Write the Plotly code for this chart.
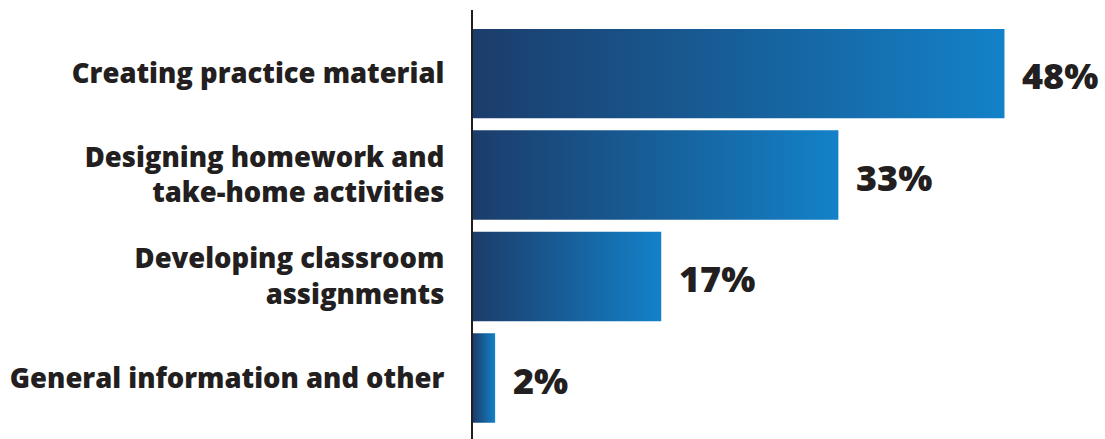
import plotly.graph_objects as go

# Survey results: share of responses per use case
categories = [
    "Creating practice material",
    "Designing homework and<br>take-home activities",
    "Developing classroom<br>assignments",
    "General information and other",
]
shares = [48, 33, 17, 2]
value_labels = ["48%", "33%", "17%", "2%"]

INK = "#231f20"
GRADIENT = [[0.0, "#1b3d6b"], [1.0, "#1381c8"]]
FONT = "Open Sans"
HALF = 0.44  # half bar thickness, in category units

fig = go.Figure()

# Each bar is a filled rectangle so it can carry its own left-to-right gradient
for i, (cat, v) in enumerate(zip(categories, shares)):
    fig.add_trace(go.Scatter(
        x=[0, v, v, 0, 0],
        y=[i - HALF, i - HALF, i + HALF, i + HALF, i - HALF],
        mode="lines",
        line=dict(width=0),
        fill="toself",
        fillgradient=dict(type="horizontal", colorscale=GRADIENT, start=0, stop=v),
        hoveron="fills",
        name=cat.replace("<br>", " "),
        text=f"{v}%",
        hoverinfo="name+text",
        showlegend=False,
    ))
    fig.add_annotation(
        x=v, y=i, xref="x", yref="y",
        text=value_labels[i],
        showarrow=False,
        xanchor="left", yanchor="middle",
        xshift=16, yshift=-2,
        font=dict(family=FONT, size=36, color=INK, weight=780),
    )

fig.update_layout(
    width=1105,
    height=439,
    margin=dict(l=473, r=2, t=10, b=0),
    paper_bgcolor="white",
    plot_bgcolor="white",
    showlegend=False,
    xaxis=dict(
        range=[0, 56.9],
        visible=False,
        showgrid=False,
        zeroline=False,
    ),
    yaxis=dict(
        range=[3.601, -0.626],
        tickvals=list(range(len(categories))),
        ticktext=categories,
        showline=True,
        linecolor=INK,
        linewidth=2.4,
        showgrid=False,
        zeroline=False,
        ticks="",
        ticklabelstandoff=21,
        tickfont=dict(family=FONT, size=27.4, color=INK, weight=760),
    ),
)

fig.write_html("out.html")
